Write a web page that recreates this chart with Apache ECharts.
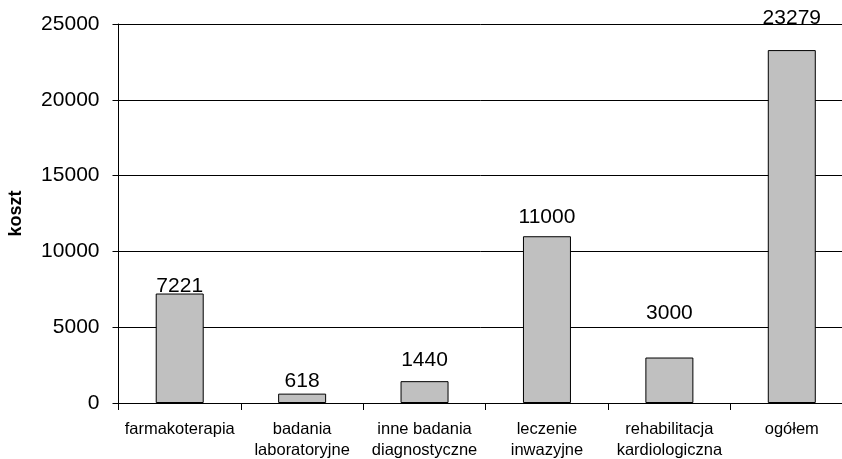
<!DOCTYPE html>
<html>
<head>
<meta charset="utf-8">
<script src="https://cdn.jsdelivr.net/npm/echarts@6/dist/echarts.min.js"></script>
<style>
  html, body { margin: 0; padding: 0; background: #fff; }
  #chart { width: 842px; height: 459px; }
</style>
</head>
<body>
<div id="chart"></div>
<script>
// Cost categories and their values
const categories = [
  'farmakoterapia',
  'badania\nlaboratoryjne',
  'inne badania\ndiagnostyczne',
  'leczenie\ninwazyjne',
  'rehabilitacja\nkardiologiczna',
  'ogółem'
];
const values = [7221, 618, 1440, 11000, 3000, 23279];
// vertical nudge of each value label (px, negative = up)
const labelShift = [3, -2, -10, -9, -34, -21];

const yTicks = { min: 0, max: 25000, interval: 5000 };
const font = 'Liberation Sans, Arial, sans-serif';

const chart = echarts.init(document.getElementById('chart'));
chart.setOption({
  animation: false,
  grid: {
    left: 118.5, right: -11, top: 24, bottom: 56,
    containLabel: false, outerBoundsMode: 'none'
  },
  xAxis: {
    type: 'category',
    data: categories,
    axisLine: { lineStyle: { color: '#000', width: 1 } },
    axisTick: { show: true, length: 7, lineStyle: { color: '#000' } },
    axisLabel: {
      color: '#000', fontFamily: font, fontSize: 16.5, lineHeight: 21,
      margin: 16, interval: 0
    }
  },
  yAxis: {
    type: 'value',
    min: yTicks.min, max: yTicks.max, interval: yTicks.interval,
    name: 'koszt',
    nameLocation: 'middle',
    nameRotate: 90,
    nameGap: 93,
    nameTextStyle: { color: '#000', fontFamily: font, fontSize: 18, fontWeight: 'bold' },
    axisLine: { show: true, lineStyle: { color: '#000', width: 1 } },
    axisTick: { show: true, length: 6, lineStyle: { color: '#000' } },
    axisLabel: {
      color: '#000', fontFamily: font, fontSize: 21, margin: 19,
      formatter: v => String(v)
    },
    splitLine: { show: true, lineStyle: { color: '#000', width: 1 } }
  },
  series: [{
    type: 'bar',
    barWidth: 48,
    data: values.map((v, i) => ({
      value: v,
      label: { offset: [0, labelShift[i]] }
    })),
    itemStyle: { color: '#c0c0c0', borderColor: '#000', borderWidth: 1 },
    label: {
      show: true, position: 'top', distance: 0,
      color: '#000', fontFamily: font, fontSize: 21
    }
  }]
});
</script>
</body>
</html>
